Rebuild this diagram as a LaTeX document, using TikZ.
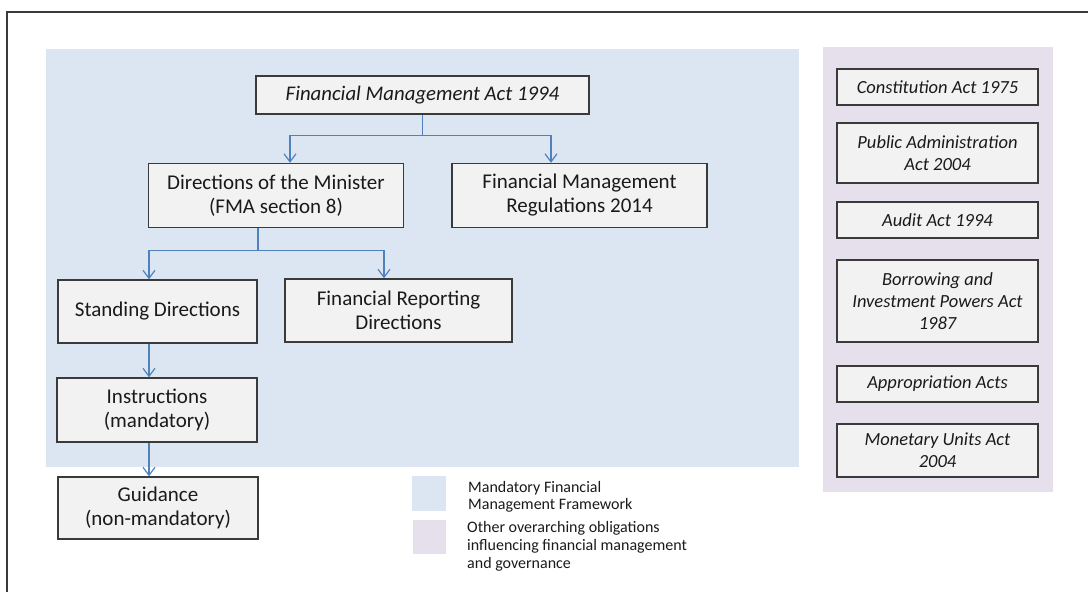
\documentclass[tikz,border=0pt]{standalone}
\usepackage{fontspec}
\setmainfont{Carlito}
\usetikzlibrary{arrows.meta,calc}
\definecolor{bluebg}{HTML}{DCE6F2}
\definecolor{purplebg}{HTML}{E5E0EC}
\definecolor{boxfill}{HTML}{F2F2F2}
\definecolor{boxline}{HTML}{3A3A3A}
\definecolor{conncol}{HTML}{4F81BD}
\definecolor{txt}{HTML}{1A1A1A}
\tikzset{
  box/.style={draw=boxline, line width=1.4pt, fill=boxfill, align=center, inner sep=0pt, text=txt},
  mainbox/.style={box, font=\fontsize{21}{24}\selectfont},
  actbox/.style={box, font=\itshape\fontsize{18.5}{22}\selectfont, minimum width=201pt},
  conn/.style={draw=conncol, line width=1.2pt},
  arr/.style={conn, -{Straight Barb[length=8pt,width=12pt]}},
  legtext/.style={anchor=north west, align=left, inner sep=0pt, text=txt, font=\fontsize{16}{17.5}\selectfont}
}
\begin{document}
\begin{tikzpicture}[x=1pt,y=-1pt]
\useasboundingbox (0,0) rectangle (1088,592);
% outer frame
\draw[boxline, line width=1.4pt] (7,600) -- (7,12) -- (1100,12);
% backgrounds
\fill[bluebg] (46,49) rectangle (799,467);
\fill[purplebg] (823,47) rectangle (1053,492);
% main boxes
\node[mainbox, minimum width=333pt, minimum height=38pt, font=\itshape\fontsize{20.8}{24}\selectfont] (fma) at (422.5,95) {Financial Management Act 1994};
\node[mainbox, minimum width=255pt, minimum height=64pt] (dir) at (276,195.5) {Directions of the Minister\\(FMA section 8)};
\node[mainbox, minimum width=255pt, minimum height=64pt] (fmr) at (579.5,195.5) {Financial Management\\Regulations 2014};
\node[mainbox, minimum width=199pt, minimum height=63pt] (std) at (157.5,311.5) {Standing Directions};
\node[mainbox, minimum width=227pt, minimum height=63pt] (frd) at (398.5,310.5) {Financial Reporting\\Directions};
\node[mainbox, minimum width=200pt, minimum height=64pt] (ins) at (157,410) {Instructions\\(mandatory)};
\node[mainbox, minimum width=200pt, minimum height=62pt] (gui) at (158,508) {Guidance\\(non-mandatory)};
% connectors
\draw[conn] (fma.south) -- ++(0,21) coordinate (j1);
\draw[arr] (j1) -| ($(dir.north)+(14,0)$);
\draw[arr] (j1) -| ($(fmr.north)+(-28.5,0)$);
\draw[conn] ($(dir.south)+(-18,0)$) -- ++(0,22) coordinate (j2);
\draw[arr] (j2) -| ($(std.north)+(-8.5,0)$);
\draw[arr] (j2) -| ($(frd.north)+(-14.5,0)$);
\draw[arr] ($(std.south)+(-8.5,0)$) -- ($(ins.north)+(-8,0)$);
\draw[arr] ($(ins.south)+(-8,0)$) -- ($(gui.north)+(-9,0)$);
% right column
\node[actbox, minimum height=36pt] (con) at (937.5,87) {Constitution Act 1975};
\node[actbox, minimum height=60pt] (pub) at (937.5,153) {Public Administration\\Act 2004};
\node[actbox, minimum height=36pt] (aud) at (937.5,220) {Audit Act 1994};
\node[actbox, minimum height=82pt] (bor) at (937.5,301) {Borrowing and\\Investment Powers Act\\1987};
\node[actbox, minimum height=36pt] (app) at (937.5,384) {Appropriation Acts};
\node[actbox, minimum height=53pt] (mon) at (937.5,450.5) {Monetary Units Act\\2004};
% legend
\node[fill=bluebg, minimum width=34pt, minimum height=35pt, inner sep=0pt] (lg1) at (429,493.5) {};
\node[fill=purplebg, minimum width=33pt, minimum height=34pt, inner sep=0pt] (lg2) at (429.5,537) {};
\node[legtext] (lt1) at (468,481) {Mandatory Financial\\Management Framework};
\node[legtext, font=\fontsize{16}{18}\selectfont] (lt2) at (467,521.5) {Other overarching obligations\\influencing financial management\\and governance};
\end{tikzpicture}
\end{document}
